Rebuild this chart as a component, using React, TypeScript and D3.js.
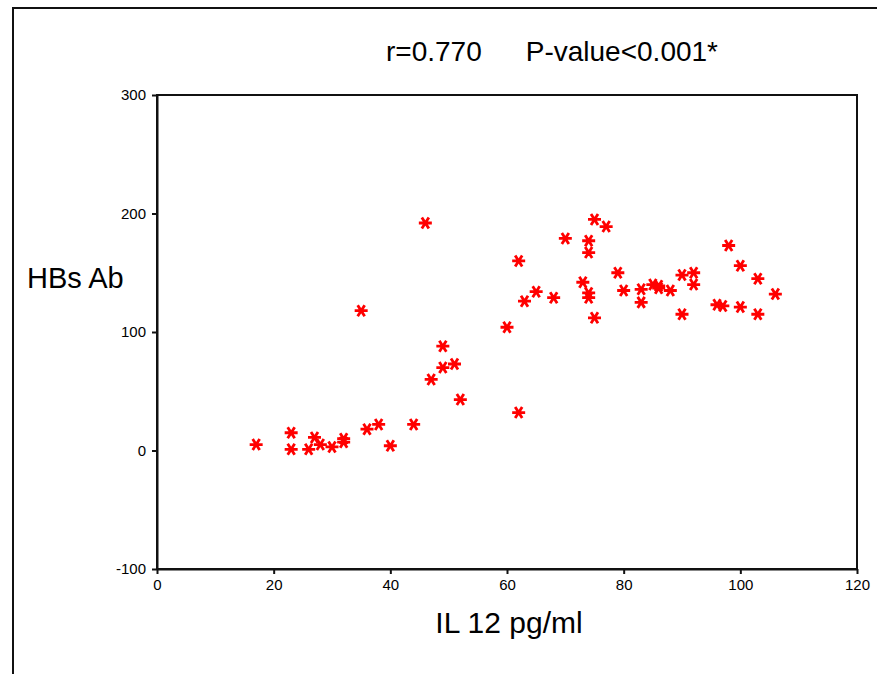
import { useRef, useEffect } from "react";
import * as d3 from "d3";

// IL 12 (pg/ml) vs HBs Ab
const il12 = [
  17, 23, 23, 26, 27, 28, 30, 32, 32, 36, 38, 40, 44, 35, 46, 49, 49, 51, 47, 52,
  60, 62, 62, 63, 65, 68, 70, 73, 74, 74, 74, 74, 75, 75, 77, 79, 80, 83, 83, 85,
  86, 86, 88, 90, 90, 92, 92, 96, 97, 98, 100, 100, 103, 103, 106,
];
const hbsAb = [
  5, 15, 1, 1, 11, 5, 3, 10, 7, 18, 22, 4, 22, 118, 192, 88, 70, 73, 60, 43,
  104, 160, 32, 126, 134, 129, 179, 142, 177, 167, 133, 129, 195, 112, 189, 150, 135, 136, 125, 140,
  139, 137, 135, 148, 115, 150, 140, 123, 122, 173, 156, 121, 145, 115, 132,
];
const xTicks = [0, 20, 40, 60, 80, 100, 120];
const yTicks = [-100, 0, 100, 200, 300];

const FONT = "'Liberation Sans', Arial, sans-serif";

export default function App() {
  const svgRef = useRef<SVGSVGElement>(null);

  useEffect(() => {
    const svg = d3.select(svgRef.current);
    svg.selectAll("*").remove();

    const width = 877;
    const height = 674;
    const plot = { left: 157, right: 857, top: 95, bottom: 569 };

    const x = d3.scaleLinear().domain([0, 120]).range([plot.left, plot.right]);
    const y = d3.scaleLinear().domain([-100, 300]).range([plot.bottom, plot.top]);

    svg.append("rect").attr("width", width).attr("height", height).attr("fill", "#fff");

    // outer frame (only left and top edges show)
    svg
      .append("rect")
      .attr("x", 13)
      .attr("y", 8)
      .attr("width", width + 20)
      .attr("height", height + 20)
      .attr("fill", "none")
      .attr("stroke", "#111")
      .attr("stroke-width", 2);

    // plot box
    svg
      .append("rect")
      .attr("x", plot.left)
      .attr("y", plot.top)
      .attr("width", plot.right - plot.left)
      .attr("height", plot.bottom - plot.top)
      .attr("fill", "none")
      .attr("stroke", "#111")
      .attr("stroke-width", 2);

    const xAxis = svg
      .append("g")
      .attr("transform", `translate(0,${plot.bottom})`)
      .call(
        d3.axisBottom(x).tickValues(xTicks).tickSize(5).tickSizeOuter(0).tickFormat((d) => String(d))
      );
    const yAxis = svg
      .append("g")
      .attr("transform", `translate(${plot.left},0)`)
      .call(
        d3.axisLeft(y).tickValues(yTicks).tickSize(5).tickSizeOuter(0).tickFormat((d) => String(d))
      );

    [xAxis, yAxis].forEach((g) => {
      g.select(".domain").attr("stroke", "#111").attr("stroke-width", 2);
      g.selectAll(".tick line").attr("stroke", "#111").attr("stroke-width", 2);
      g.selectAll(".tick text")
        .attr("fill", "#000")
        .style("font-family", FONT)
        .style("font-size", "15px");
    });
    xAxis.selectAll(".tick text").attr("dy", "0.85em");
    yAxis.selectAll(".tick text").attr("x", -11);

    // asterisk markers
    const star = "M-6.5,0L6.5,0M-3.5,-5.5L3.5,5.5M3.5,-5.5L-3.5,5.5";
    svg
      .append("g")
      .selectAll("path")
      .data(il12.map((v, i) => [v, hbsAb[i]]))
      .join("path")
      .attr("transform", (d) => `translate(${x(d[0])},${y(d[1])})`)
      .attr("d", star)
      .attr("stroke", "#ff0000")
      .attr("stroke-width", 2.8)
      .attr("fill", "none");

    // title
    svg
      .append("text")
      .attr("x", 386)
      .attr("y", 61)
      .style("font-family", FONT)
      .style("font-size", "28px")
      .text("r=0.770");
    svg
      .append("text")
      .attr("x", 718)
      .attr("y", 61)
      .attr("text-anchor", "end")
      .style("font-family", FONT)
      .style("font-size", "28px")
      .text("P-value<0.001*");

    svg
      .append("text")
      .attr("x", 27)
      .attr("y", 288)
      .style("font-family", FONT)
      .style("font-size", "29px")
      .text("HBs Ab");

    svg
      .append("text")
      .attr("x", 509)
      .attr("y", 633)
      .attr("text-anchor", "middle")
      .style("font-family", FONT)
      .style("font-size", "30px")
      .text("IL 12 pg/ml");
  }, []);

  return (
    <svg
      ref={svgRef}
      width={877}
      height={674}
      style={{ position: "absolute", left: 0, top: 0 }}
    />
  );
}
